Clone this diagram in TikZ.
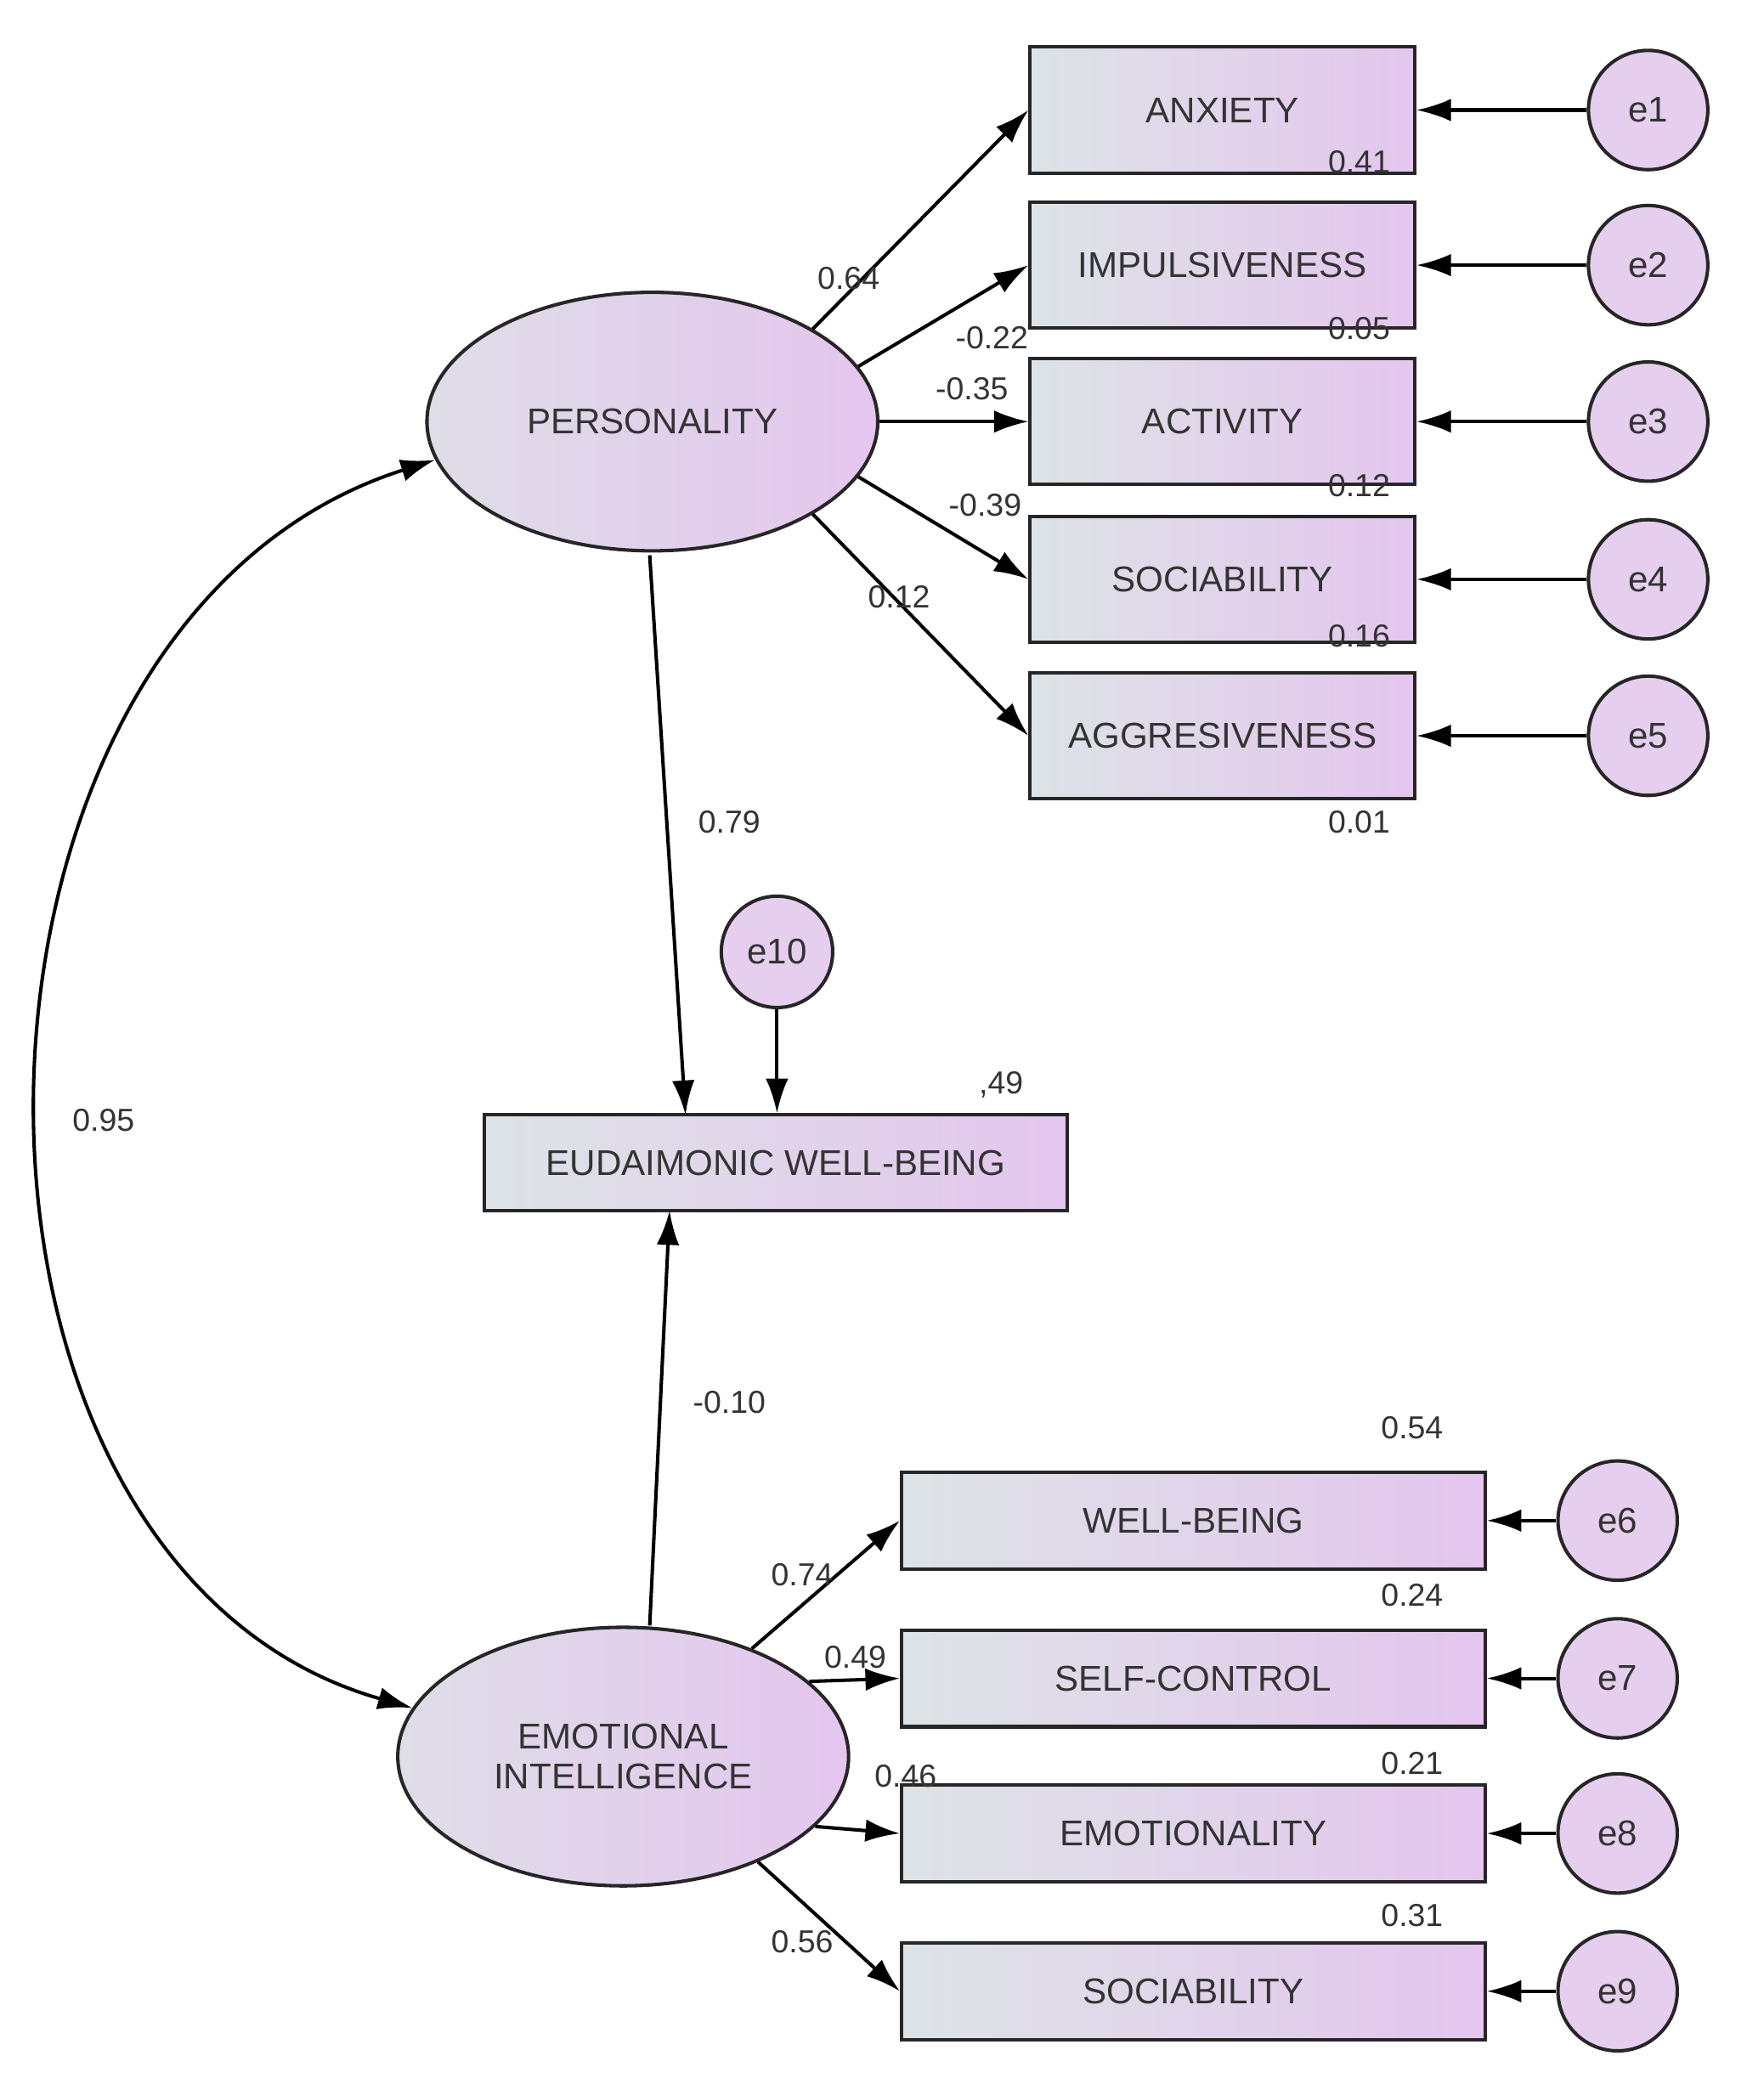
\documentclass[tikz,border=0pt]{standalone}
\usepackage{fontspec}
\setmainfont{Liberation Sans}
\usetikzlibrary{arrows.meta,shapes.geometric}
\definecolor{gl}{HTML}{DDE3E6}
\definecolor{gr}{HTML}{E4C6EE}
\definecolor{ef}{HTML}{E6CFEE}
\begin{document}
\begin{tikzpicture}[x=1pt,y=-1pt,
  fillg/.style={left color=gl, right color=gr},
  box/.style={draw=black!85, line width=2.6pt, fillg, minimum width=290pt, minimum height=95pt, font=\fontsize{27}{29}\selectfont, text=black!80, inner sep=0pt},
  bbox/.style={box, minimum width=440pt, minimum height=73pt},
  err/.style={draw=black!85, circle, line width=2.6pt, fill=ef, minimum size=90pt, inner sep=0pt, font=\fontsize{27}{29}\selectfont, text=black!80},
  lat/.style={draw=black!85, ellipse, line width=2.6pt, left color=gl!80!gr, right color=gr, minimum width=340pt, minimum height=195pt, align=center, font=\fontsize{27}{30}\selectfont, text=black!80},
  arr/.style={-{Latex[length=26pt,width=17pt]}, line width=2.6pt},
  lab/.style={font=\fontsize{24}{26}\selectfont, text=black!80, inner sep=0pt}]
\useasboundingbox (0,0) rectangle (1330,1572);
% top
\node[lat] (P) at (492,318) {PERSONALITY};
\node[box] (b1) at (922,83) {ANXIETY};
\node[box] (b2) at (922,200) {IMPULSIVENESS};
\node[box] (b3) at (922,318) {ACTIVITY};
\node[box] (b4) at (922,437) {SOCIABILITY};
\node[box] (b5) at (922,555) {AGGRESIVENESS};
\foreach \i/\y in {1/83,2/200,3/318,4/437,5/555}{
  \node[err] (e\i) at (1243,\y) {e\i};
  \draw[arr] (e\i) -- (b\i);
}
\draw[arr] (P.30) -- (b1.west);
\draw[arr] (P.15) -- (b2.west);
\draw[arr] (P.0) -- (b3.west);
\draw[arr] (P.-15) -- (b4.west);
\draw[arr] (P.-30) -- (b5.west);
% middle
\node[bbox, minimum width=440pt, minimum height=72pt] (W) at (585,877) {EUDAIMONIC WELL-BEING};
\node[err, minimum size=84pt] (e10) at (586,718) {e10};
\draw[arr] (e10) -- (e10 |- W.north);
\coordinate (wa) at (517,841);
\coordinate (wb) at (505,913);
\draw[arr] (P.south) ++(-2,2) -- (wa);
% bottom
\node[lat] (E) at (470,1325) {EMOTIONAL\\INTELLIGENCE};
\draw[arr] (E.north) ++(20,0) -- (wb);
\node[bbox] (c1) at (900,1147) {WELL-BEING};
\node[bbox] (c2) at (900,1266) {SELF-CONTROL};
\node[bbox] (c3) at (900,1383) {EMOTIONALITY};
\node[bbox] (c4) at (900,1502) {SOCIABILITY};
\foreach \i/\y/\n in {1/1147/6,2/1266/7,3/1383/8,4/1502/9}{
  \node[err] (f\i) at (1220,\y) {e\n};
  \draw[arr] (f\i) -- (c\i);
}
\draw[arr] (E.40) -- (c1.west);
\draw[arr] (E.22) -- (c2.west);
\draw[arr] (E.-20) -- (c3.west);
\draw[arr] (E.-38) -- (c4.west);
% covariance
\draw[{Latex[length=26pt,width=17pt]}-{Latex[length=26pt,width=17pt]}, line width=2.6pt]
  (P.190) .. controls (-60,470) and (-70,1180) .. (E.167);
% labels
\node[lab] at (640,210) {0.64};
\node[lab] at (748,255) {-0.22};
\node[lab] at (733,293) {-0.35};
\node[lab] at (743,381) {-0.39};
\node[lab] at (678,450) {0.12};
\node[lab] at (1025,122) {0.41};
\node[lab] at (1025,248) {0.05};
\node[lab] at (1025,366) {0.12};
\node[lab] at (1025,480) {0.16};
\node[lab] at (1025,620) {0.01};
\node[lab] at (550,620) {0.79};
\node[lab] at (755,818) {,49};
\node[lab] at (78,845) {0.95};
\node[lab] at (550,1058) {-0.10};
\node[lab] at (1065,1077) {0.54};
\node[lab] at (1065,1203) {0.24};
\node[lab] at (1065,1330) {0.21};
\node[lab] at (1065,1445) {0.31};
\node[lab] at (605,1188) {0.74};
\node[lab] at (645,1250) {0.49};
\node[lab] at (683,1340) {0.46};
\node[lab] at (605,1465) {0.56};
\end{tikzpicture}
\end{document}
